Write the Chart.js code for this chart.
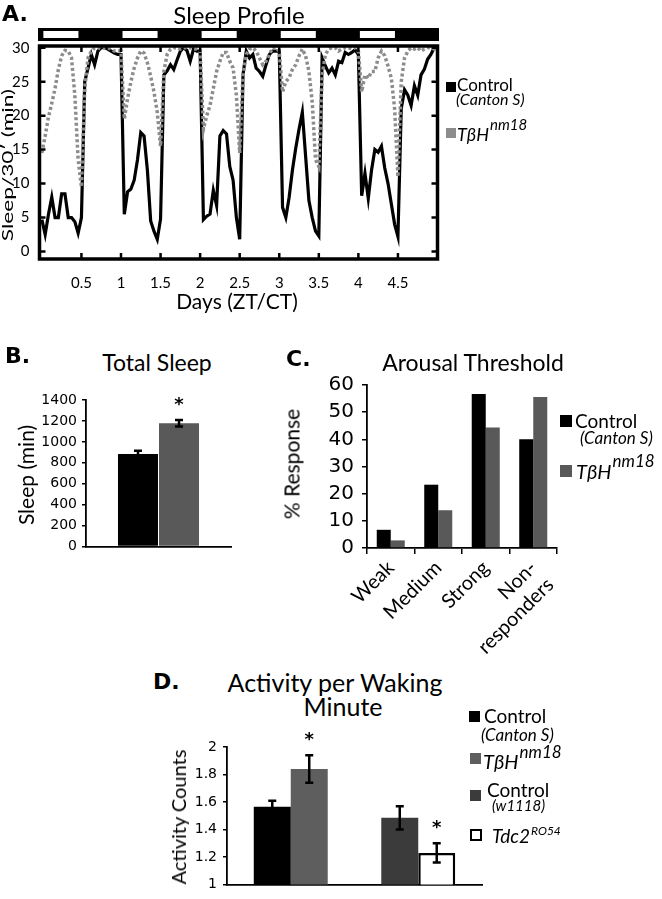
<!DOCTYPE html>
<html><head><meta charset="utf-8">
<script src="https://cdn.jsdelivr.net/npm/chart.js@4/dist/chart.umd.min.js"></script>
<style>
html,body{margin:0;padding:0;background:#fff;}
#page{position:relative;width:662px;height:899px;overflow:hidden;font-family:Lato,sans-serif;color:#000;background:#fff;}
canvas{position:absolute;}
.t{position:absolute;white-space:nowrap;line-height:1;}
.c{transform:translate(-50%,-50%);}
.l{transform:translate(0,-50%);}
.r{transform:translate(-50%,-50%) rotate(-90deg);}
.p{font-family:"DejaVu Sans";font-weight:bold;font-size:22px;}
.i{font-style:italic;}
.sq{position:absolute;box-sizing:border-box;}
.sup{font-style:italic;position:relative;}
</style>
</head><body>
<div id="page">
<canvas id="cA" width="662" height="320" style="left:0;top:0"></canvas>
<canvas id="cB" width="260" height="175" style="left:0;top:385px"></canvas>
<canvas id="cC" width="320" height="300" style="left:300px;top:365px"></canvas>
<canvas id="cD" width="350" height="174" style="left:150px;top:725px"></canvas>

<!-- Panel A text -->
<div class="t p" style="left:2px;top:3px">A.</div>
<div class="t c" style="left:239px;top:15px;font-size:24px">Sleep Profile</div>
<div class="t" style="left:7px;top:165px;font-size:16px;transform:translate(-50%,-50%) rotate(-90deg) scaleX(1.42)">Sleep/30′ (min)</div>
<div class="t c" style="left:237px;top:300px;font-size:21px">Days (ZT/CT)</div>
<div class="sq" style="left:446px;top:82px;width:10px;height:10px;background:#000"></div>
<div class="t l" style="left:457px;top:84px;font-size:17px">Control</div>
<div class="t l i" style="left:456px;top:99px;font-size:16px">(Canton S)</div>
<div class="sq" style="left:446px;top:128px;width:10px;height:10px;background:#8c8c8c"></div>
<div class="t l i" style="left:457px;top:134px;font-size:18px">TβH<span class="sup" style="font-size:15px;top:-11px;left:1px">nm18</span></div>

<!-- Panel B text -->
<div class="t p" style="left:5px;top:345px">B.</div>
<div class="t c" style="left:157px;top:362px;font-size:23px">Total Sleep</div>
<div class="t r" style="left:25px;top:475px;font-size:21px">Sleep (min)</div>

<!-- Panel C text -->
<div class="t p" style="left:286px;top:348px">C.</div>
<div class="t c" style="left:473px;top:362px;font-size:23px">Arousal Threshold</div>
<div class="t r" style="left:291px;top:464px;font-size:21px">% Response</div>
<div class="sq" style="left:560px;top:415px;width:12px;height:12px;background:#000"></div>
<div class="t l" style="left:575px;top:420px;font-size:19px">Control</div>
<div class="t l i" style="left:580px;top:437px;font-size:17px">(Canton S)</div>
<div class="sq" style="left:560px;top:465px;width:12px;height:12px;background:#595959"></div>
<div class="t l i" style="left:576px;top:471px;font-size:20px">TβH<span class="sup" style="font-size:17px;top:-12px;left:1px">nm18</span></div>

<!-- Panel D text -->
<div class="t p" style="left:153px;top:671px">D.</div>
<div class="t c" style="left:335px;top:682px;font-size:25px">Activity per Waking</div>
<div class="t c" style="left:343px;top:706px;font-size:25px">Minute</div>
<div class="t r" style="left:178px;top:817px;font-size:20px">Activity Counts</div>
<div class="sq" style="left:469px;top:711px;width:11px;height:11px;background:#000"></div>
<div class="t l" style="left:484px;top:715px;font-size:19px">Control</div>
<div class="t l i" style="left:481px;top:734px;font-size:17px">(Canton S)</div>
<div class="sq" style="left:470px;top:753px;width:11px;height:11px;background:#5e5e5e"></div>
<div class="t l i" style="left:483px;top:761px;font-size:20px">TβH<span class="sup" style="font-size:17px;top:-11px;left:1px">nm18</span></div>
<div class="sq" style="left:470px;top:790px;width:11px;height:11px;background:#3b3b3b"></div>
<div class="t l" style="left:487px;top:789px;font-size:19px">Control</div>
<div class="t l i" style="left:492px;top:805px;font-size:15px">(w1118)</div>
<div class="sq" style="left:470px;top:829px;width:12px;height:12px;background:#fff;border:2.5px solid #000"></div>
<div class="t l i" style="left:492px;top:835px;font-size:19px">Tdc2<span class="sup" style="font-size:12px;top:-8px;left:1px">RO54</span></div>
</div>

<script>
// ---------- Panel A data: sleep per 30 min, sampled hourly ----------
const hours = [0,1,2,3,4,5,6,7,8,9,10,11,12,13,14,15,16,17,18,19,20,21,22,23,
24,25,26,27,28,29,30,31,32,33,34,35,36,37,38,39,40,41,42,43,44,45,46,47,
48,49,50,51,52,53,54,55,56,57,58,59,60,61,62,63,64,65,66,67,68,69,70,71,
72,73,74,75,76,77,78,79,80,81,82,83,84,85,86,87,88,89,90,91,92,93,94,95,
96,97,98,99,100,101,102,103,104,105,106,107,108,109,110,111,112,113,114,115,116,117,118,119,120];
const controlSleep = [
4.7, 2.5, 5.5, 8, 5, 5, 8.5, 8.5, 5, 5, 4.4, 2.7,
5, 25, 27, 29, 27.5, 29.5, 30, 30, 29.8, 29.5, 29.2, 29,
29, 5.5, 8.8, 9.2, 10.5, 13.5, 17.5, 17, 12, 4.5, 3, 1.8,
4.8, 26, 26.6, 27.5, 26.8, 28.2, 29.5, 30, 29.6, 28, 29.8, 29.5,
29.5, 4.7, 5.2, 5.5, 9, 6.8, 17, 17.8, 17.3, 12.5, 10.5, 5,
1.8, 26, 29.5, 28.5, 29, 27, 26.5, 25.8, 27.5, 29, 29.5, 29.5,
29.5, 6.5, 5, 8, 12, 15.2, 18, 20.5, 14, 7.5, 5, 3,
2.3, 28.5, 27.3, 26.3, 27, 26, 28, 27.8, 29.3, 29, 29.3, 29.7,
29, 8.2, 11.5, 7.8, 12, 15, 14.6, 15.5, 12.3, 10, 7, 4,
2.2, 21, 23.8, 23, 21.5, 24.4, 23, 26, 26.8, 28.3, 29, 30,
30];
const tbhSleep = [
14.5, 17, 19.8, 21.8, 24, 26.8, 28.8, 29.6, 29.5, 28.5, 23, 13.5,
9.5, 24, 28.5, 29.5, 30, 30, 29.8, 30, 30, 29.8, 29.5, 29.5,
29.5, 19.5, 22.5, 25, 27, 28.5, 29.5, 29.2, 27.8, 25.8, 23.5, 20.5,
15.5, 26.5, 29, 29.8, 30, 30, 29.8, 30, 30, 30, 29.8, 29.8,
29.5, 18, 20, 21.5, 24, 26.5, 28, 29.3, 29.3, 28, 27, 23,
14.5, 26, 29, 29.8, 30, 29.5, 28.5, 27.5, 28, 29, 30, 30,
29.5, 23.5, 25, 25.6, 26.8, 27.5, 28.8, 29.8, 28.8, 26.5, 22, 13.5,
12.5, 26, 29, 29.8, 30, 30, 29.5, 29.8, 30, 30, 29.8, 30,
29.5, 23.5, 26, 25.5, 26.5, 26.5, 28.5, 29.5, 28.8, 27.3, 25.5, 21,
11, 25, 28.5, 29.5, 30, 29.8, 30, 29.5, 29.8, 30, 30, 29.8,
30];
const dayTicks = [0.5, 1, 1.5, 2, 2.5, 3, 3.5, 4, 4.5];
const sleepTicks = [0, 5, 10, 15, 20, 25, 30];
const lightPhases = [[0, 0.5], [1, 1.5], [2, 2.5], [3, 3.5], [4, 4.5]];

// ---------- Panel B ----------
const totalSleepMean = [885, 1178];
const totalSleepSem = [30, 30];
const totalSleepSig = [false, true];

// ---------- Panel C ----------
const arousalCategories = ['Weak', 'Medium', 'Strong', ['Non-', 'responders']];
const arousalControl = [6.7, 23.3, 56.7, 40.0];
const arousalTbh = [2.8, 13.9, 44.4, 55.6];

// ---------- Panel D ----------
const activityGroups = ['Canton S background', 'w1118 background'];
const activityCantonS = [1.565, null];
const activityTbh = [1.84, null];
const activityW1118 = [null, 1.485];
const activityTdc2 = [null, 1.23];
const activityCantonSErr = [0.045, null];
const activityTbhErr = [0.1, null];
const activityW1118Err = [null, 0.085];
const activityTdc2Err = [null, 0.07];
const activityTbhSig = [true, false];
const activityTdc2Sig = [false, true];

Chart.defaults.font.family = 'DejaVu Sans';
Chart.defaults.color = '#000';
Chart.defaults.animation = false;

const common = {responsive:false, animation:false, devicePixelRatio:1,
  plugins:{legend:{display:false}, tooltip:{enabled:false}}};
const plain = v => String(Math.round(v * 100) / 100);

// ---------- Panel A chart ----------
const framePlugin = {
  id:'frameA',
  afterDatasetsDraw(chart){
    const {ctx, chartArea:a, scales:{x, y}} = chart;
    ctx.save();
    ctx.strokeStyle = '#000';
    ctx.lineWidth = 3.5;
    ctx.strokeRect(a.left, a.top, a.right - a.left, a.bottom - a.top);
    ctx.lineWidth = 2.5;
    ctx.beginPath();
    sleepTicks.forEach(v => {
      const p = y.getPixelForValue(v);
      ctx.moveTo(a.left, p); ctx.lineTo(a.left + 6, p);
      ctx.moveTo(a.right, p); ctx.lineTo(a.right - 6, p);
    });
    dayTicks.forEach(v => {
      const p = x.getPixelForValue(v);
      ctx.moveTo(p, a.bottom); ctx.lineTo(p, a.bottom - 6);
      ctx.moveTo(p, a.top); ctx.lineTo(p, a.top + 6);
    });
    ctx.stroke();
    // light/dark bar
    const top = a.top - 18, h = 13;
    ctx.fillStyle = '#000';
    ctx.fillRect(a.left - 1.5, top, a.right - a.left + 3, h);
    ctx.fillStyle = '#fff';
    lightPhases.forEach(([s, e]) => {
      const x0 = Math.max(x.getPixelForValue(s), a.left) + 1.5;
      const x1 = x.getPixelForValue(e) - 3;
      ctx.fillRect(x0, top + 3, x1 - x0, h - 6);
    });
    ctx.restore();
  }
};

new Chart(document.getElementById('cA'), {
  type:'line',
  data:{datasets:[
    {label:'TβH nm18', data: hours.map((h, i) => ({x: h / 24, y: tbhSleep[i]})),
     borderColor:'#8c8c8c', borderWidth:3.5, borderDash:[3, 2.5], pointRadius:0, order:0},
    {label:'Control (Canton S)', data: hours.map((h, i) => ({x: h / 24, y: controlSleep[i]})),
     borderColor:'#000', borderWidth:3.2, pointRadius:0, order:1}
  ]},
  options:{...common,
    layout:{padding:{left:0, top:46, right:224.5, bottom:31}},
    scales:{
      x:{type:'linear', min:-0.03, max:5.0, grid:{display:false}, border:{display:false},
        afterBuildTicks:s => { s.ticks = dayTicks.map(v => ({value:v})); },
        afterFit:s => { s.height = 30; },
        ticks:{font:{family:'Lato', size:15}, color:'#000', padding:7, maxRotation:0, autoSkip:false,
          callback:plain}},
      y:{type:'linear', min:-1.1, max:30.25, grid:{display:false}, border:{display:false},
        afterBuildTicks:s => { s.ticks = sleepTicks.map(v => ({value:v})); },
        afterFit:s => { s.width = 39.5; },
        ticks:{font:{family:'Lato', size:15}, color:'#000', padding:2, callback:plain}}
    }
  },
  plugins:[framePlugin]
});

// ---------- error bar + significance plugin ----------
const errorBarPlugin = {
  id:'errorBars',
  afterDatasetsDraw(chart){
    const {ctx} = chart; const y = chart.scales.y;
    chart.data.datasets.forEach((ds, di) => {
      if (!ds.errors) return;
      const meta = chart.getDatasetMeta(di);
      meta.data.forEach((bar, i) => {
        const v = ds.data[i], e = ds.errors[i];
        if (v == null || e == null) return;
        const top = y.getPixelForValue(v + e), bot = y.getPixelForValue(v - e);
        const cap = 4;
        ctx.save();
        ctx.strokeStyle = '#000'; ctx.lineWidth = 2.5;
        ctx.beginPath();
        ctx.moveTo(bar.x, top); ctx.lineTo(bar.x, bot);
        ctx.moveTo(bar.x - cap, top); ctx.lineTo(bar.x + cap, top);
        ctx.moveTo(bar.x - cap, bot); ctx.lineTo(bar.x + cap, bot);
        ctx.stroke();
        if (ds.significant && ds.significant[i]) {
          ctx.fillStyle = '#000';
          ctx.font = 'bold 18px "DejaVu Sans"';
          ctx.textAlign = 'center'; ctx.textBaseline = 'alphabetic';
          ctx.fillText('*', bar.x, top - 10);
        }
        ctx.restore();
      });
    });
  }
};

const axisLine = {display:true, color:'#000', width:1.8};

// ---------- Panel B chart ----------
new Chart(document.getElementById('cB'), {
  type:'bar',
  data:{labels:[''], datasets:[
    {label:'Control (Canton S)', data:[totalSleepMean[0]], errors:[totalSleepSem[0]], significant:[totalSleepSig[0]],
     backgroundColor:'#000'},
    {label:'TβH nm18', data:[totalSleepMean[1]], errors:[totalSleepSem[1]], significant:[totalSleepSig[1]],
     backgroundColor:'#595959'}
  ]},
  options:{...common,
    datasets:{bar:{categoryPercentage:0.566, barPercentage:0.975}},
    layout:{padding:{left:0, top:15, right:29, bottom:8}},
    scales:{
      x:{grid:{display:false}, ticks:{display:false}, border:axisLine, afterFit:s => { s.height = 5; }},
      y:{min:0, max:1400, ticks:{stepSize:200, font:{size:14}, padding:5, color:'#000', callback:plain},
        grid:{drawOnChartArea:false, tickLength:4, color:'#000', lineWidth:1.5}, border:axisLine,
        afterFit:s => { s.width = 86; }}
    }
  },
  plugins:[errorBarPlugin]
});

// ---------- Panel C chart ----------
new Chart(document.getElementById('cC'), {
  type:'bar',
  data:{labels:arousalCategories, datasets:[
    {label:'Control (Canton S)', data:arousalControl, backgroundColor:'#000'},
    {label:'TβH nm18', data:arousalTbh, backgroundColor:'#595959'}
  ]},
  options:{...common,
    datasets:{bar:{categoryPercentage:0.59, barPercentage:1}},
    layout:{padding:{left:0, top:18, right:63, bottom:0}},
    scales:{
      x:{grid:{offset:true, drawOnChartArea:false, tickLength:6, color:'#000', lineWidth:1.5},
        border:axisLine,
        ticks:{font:{family:'Lato', size:20}, color:'#000', minRotation:45, maxRotation:45, padding:2, autoSkip:false},
        afterFit:s => { s.height = 117; }},
      y:{min:0, max:60, ticks:{stepSize:10, font:{size:20}, padding:8, color:'#000', callback:plain},
        grid:{drawOnChartArea:false, tickLength:5, color:'#000', lineWidth:1.5}, border:axisLine,
        afterFit:s => { s.width = 67; }}
    }
  }
});

// ---------- Panel D chart ----------
new Chart(document.getElementById('cD'), {
  type:'bar',
  data:{labels:activityGroups, datasets:[
    {label:'Control (Canton S)', data:activityCantonS, errors:activityCantonSErr, backgroundColor:'#000'},
    {label:'TβH nm18', data:activityTbh, errors:activityTbhErr, significant:activityTbhSig, backgroundColor:'#5e5e5e'},
    {label:'Control (w1118)', data:activityW1118, errors:activityW1118Err, backgroundColor:'#3b3b3b'},
    {label:'Tdc2 RO54', data:activityTdc2, errors:activityTdc2Err, significant:activityTdc2Sig,
     backgroundColor:'#fff', borderColor:'#000', borderWidth:2.5}
  ]},
  options:{...common,
    skipNull:true,
    datasets:{bar:{categoryPercentage:0.58, barPercentage:1}},
    layout:{padding:{left:0, top:22, right:18, bottom:4}},
    scales:{
      x:{grid:{display:false}, ticks:{display:false}, border:axisLine, afterFit:s => { s.height = 5; }},
      y:{min:1, max:2, ticks:{stepSize:0.2, font:{size:14}, padding:6, color:'#000', callback:plain},
        grid:{drawOnChartArea:false, tickLength:4, color:'#000', lineWidth:1.5}, border:axisLine,
        afterFit:s => { s.width = 77; }}
    }
  },
  plugins:[errorBarPlugin]
});
</script>
</body></html>
